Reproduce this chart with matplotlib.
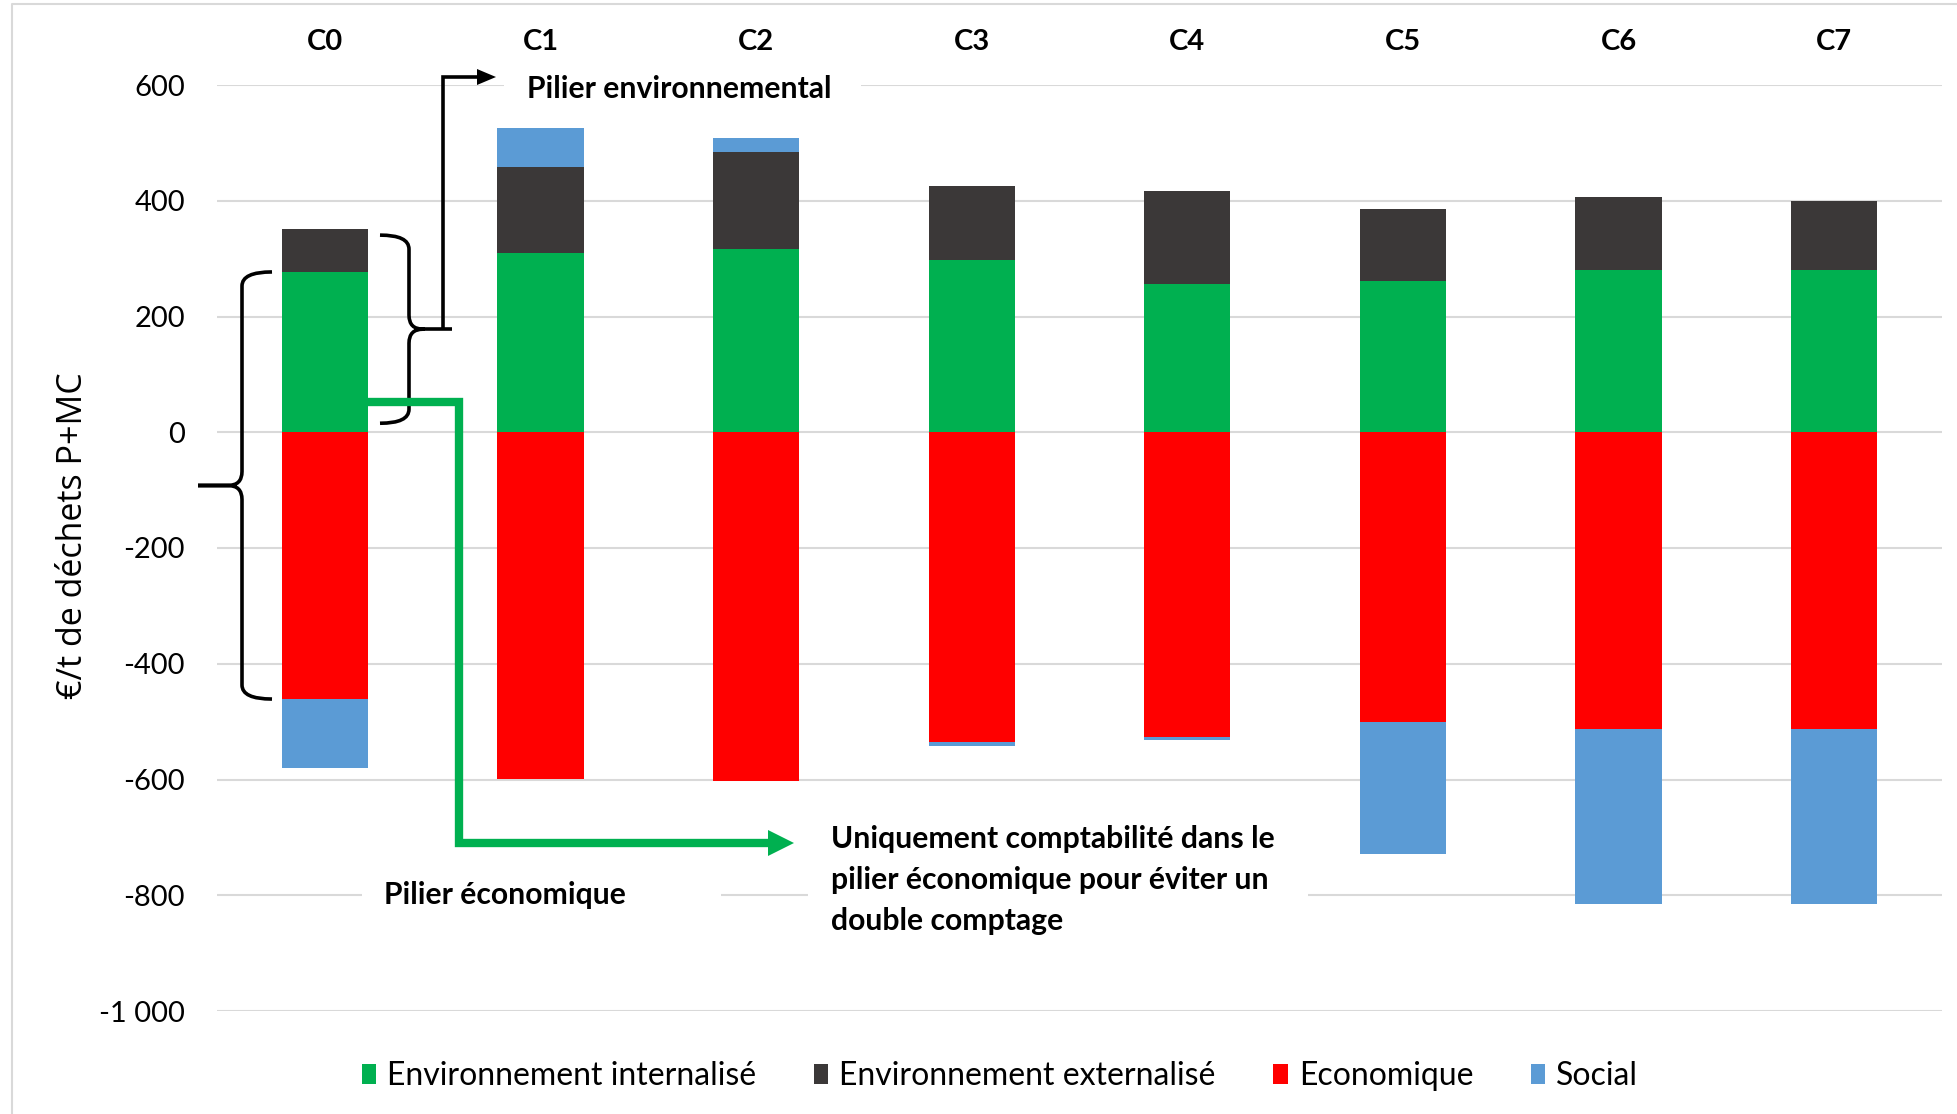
import numpy as np
import matplotlib
matplotlib.use("Agg")
import matplotlib.pyplot as plt
from matplotlib.patches import Patch, Rectangle, Polygon, PathPatch
from matplotlib.path import Path
from matplotlib.ticker import FuncFormatter

# ---- data (€/t de déchets P+MC) ----
categories = ["C0", "C1", "C2", "C3", "C4", "C5", "C6", "C7"]
env_internalise = [277, 310, 317, 298, 257, 262, 281, 281]
env_externalise = [74, 149, 168, 127, 159, 123, 125, 119]
economique = [-461, -599, -603, -536, -527, -501, -513, -513]
social = [-119, 67, 23, -6, -4, -227, -302, -302]

series_labels = ["Environnement internalisé", "Environnement externalisé",
                 "Economique", "Social"]
colors = {"int": "#00B050", "ext": "#3B3838", "eco": "#FF0000", "soc": "#5B9BD5"}

y_ticks = [-1000, -800, -600, -400, -200, 0, 200, 400, 600]

W, H = 1957, 1114
plt.rcParams["font.family"] = ["Lato", "DejaVu Sans"]

fig = plt.figure(figsize=(W / 100, H / 100), dpi=100)
fig.patch.set_facecolor("white")

# plot area in pixels: left 217, right 1942, top 85, bottom 1011
ax = fig.add_axes([217 / W, 1 - 1011 / H, (1942 - 217) / W, (1011 - 85) / H])
ax.set_xlim(-0.5, len(categories) - 0.5)
ax.set_ylim(-1000, 600)

x = np.arange(len(categories))
w = 0.40
e_int = np.array(env_internalise, float)
e_ext = np.array(env_externalise, float)
eco = np.array(economique, float)
soc = np.array(social, float)

pos_top = e_int + e_ext
neg_bot = eco
soc_bottom = np.where(soc >= 0, pos_top, neg_bot)

ax.bar(x, e_int, w, color=colors["int"], zorder=3)
ax.bar(x, e_ext, w, bottom=e_int, color=colors["ext"], zorder=3)
ax.bar(x, eco, w, color=colors["eco"], zorder=3)
ax.bar(x, soc, w, bottom=soc_bottom, color=colors["soc"], zorder=3)

# axes styling
for s in ax.spines.values():
    s.set_visible(False)
ax.set_yticks(y_ticks)
ax.yaxis.set_major_formatter(FuncFormatter(
    lambda v, p: ("-" if v < 0 else "") + f"{abs(int(v)):,}".replace(",", " ")))
ax.tick_params(axis="y", length=0, pad=23, labelsize=21, labelcolor="#000000")
ax.set_xticks([])
ax.grid(axis="y", color="#D9D9D9", linewidth=1.5, zorder=0)
ax.set_axisbelow(True)
ax.set_ylabel("€/t de déchets P+MC", fontsize=24.5, family=["Open Sans", "DejaVu Sans"],
              labelpad=0)
ax.yaxis.set_label_coords((90 - 217) / (1942 - 217), (1011 - 536) / (1011 - 85))

# category labels above the plot area
for xi, c in zip(x, categories):
    ax.text(xi, (1011 - 42) / (1011 - 85), c, transform=ax.get_xaxis_transform(),
            ha="center", va="center", fontsize=21, fontweight="bold")

# ---- overlay in pixel coordinates (y downward) for annotations ----
ov = fig.add_axes([0, 0, 1, 1], zorder=5)
ov.set_xlim(0, W)
ov.set_ylim(H, 0)
ov.axis("off")
ov.patch.set_alpha(0)


def py(v):
    """pixel row (from top) of a data value on the main axes"""
    return H - ax.transData.transform((0, v))[1]


def px(i):
    return ax.transData.transform((i, 0))[0]


# white boxes interrupting gridlines behind annotation text
for (x0, x1, y0, y1) in [(504, 861, 66, 108), (362, 721, 874, 916), (808, 1308, 822, 936)]:
    ov.add_patch(Rectangle((x0, y0), x1 - x0, y1 - y0, facecolor="white",
                           edgecolor="none", zorder=1))

# figure frame (top and left edges)
ov.plot([12, 12, W], [H, 4, 4], color="#D9D9D9", lw=1.5, zorder=1, clip_on=False)


def brace(xs, yt, yb, ym, hook, tip, r=14):
    s = np.sign(hook)
    verts = [(xs + hook, yt), (xs, yt), (xs, yt + r),
             (xs, ym - r), (xs, ym), (xs - s * r, ym),
             (tip, ym),
             (tip, ym), (xs - s * r, ym), (xs, ym), (xs, ym + r),
             (xs, yb - r), (xs, yb), (xs + hook, yb)]
    codes = [Path.MOVETO, Path.CURVE3, Path.CURVE3,
             Path.LINETO, Path.CURVE3, Path.CURVE3,
             Path.LINETO,
             Path.MOVETO, Path.LINETO, Path.CURVE3, Path.CURVE3,
             Path.LINETO, Path.CURVE3, Path.CURVE3]
    ov.add_patch(PathPatch(Path(verts, codes), facecolor="none", edgecolor="black",
                           lw=2.6, capstyle="butt", joinstyle="round", zorder=4))


# left brace: economic pillar (C0 green top down to C0 red bottom)
yt_l, yb_l = py(e_int[0]), py(eco[0])
brace(242, yt_l, yb_l, (yt_l + yb_l) / 2, hook=30, tip=198)

# right brace: environmental pillar
yt_r, yb_r = py(pos_top[0]) + 6, py(0) - 9
ym_r = (yt_r + yb_r) / 2
brace(409, yt_r, yb_r, ym_r, hook=-29, tip=425)

# black elbow connector to "Pilier environnemental"
ov.plot([425, 452], [ym_r, ym_r], color="black", lw=2.6, solid_capstyle="butt", zorder=4)
ov.plot([443, 443, 478], [ym_r, 77, 77], color="black", lw=2.6,
        solid_joinstyle="miter", solid_capstyle="butt", zorder=4)
ov.add_patch(Polygon([(477, 69), (496, 77), (477, 85)], closed=True,
                     facecolor="black", edgecolor="none", zorder=4))

# green elbow connector to the double-counting note
bar_right = px(0) + (px(w / 2) - px(0))
ov.plot([bar_right, 458.5, 458.5, 770], [401.5, 401.5, 843, 843], color="#00B050",
        lw=6, solid_joinstyle="miter", solid_capstyle="butt", zorder=4)
ov.add_patch(Polygon([(768, 830), (794, 843), (768, 856)], closed=True,
                     facecolor="#00B050", edgecolor="none", zorder=4))

# annotation texts
ov.text(527, 89, "Pilier environnemental", ha="left", va="center",
        fontsize=21.7, fontweight="bold", zorder=6)
ov.text(384, 895, "Pilier économique", ha="left", va="center",
        fontsize=21.7, fontweight="bold", zorder=6)
ov.text(831, 880, "Uniquement comptabilité dans le\npilier économique pour éviter un\ndouble comptage",
        ha="left", va="center", fontsize=21.7, fontweight="bold", linespacing=1.55, zorder=6)

# legend
handles = [Patch(facecolor=colors[k], edgecolor="none") for k in ["int", "ext", "eco", "soc"]]
fig.legend(handles, series_labels, loc="center", bbox_to_anchor=(1000 / W, 1 - 1076 / H),
           ncol=4, frameon=False, fontsize=23, handlelength=0.45, handleheight=0.6,
           handletextpad=0.35, columnspacing=1.8)

fig.savefig("out.png", dpi=100)
